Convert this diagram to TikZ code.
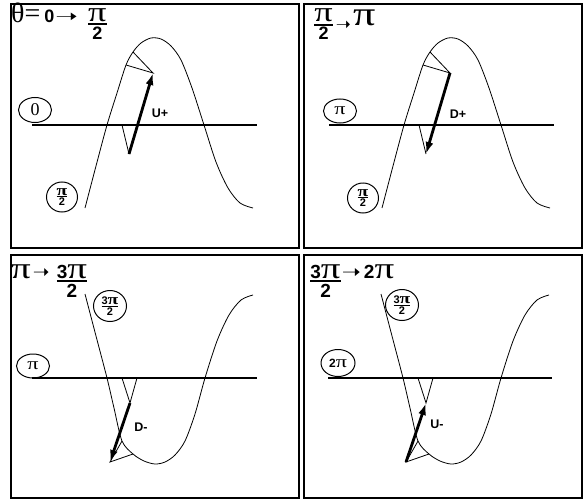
\documentclass[tikz,border=0pt]{standalone}
\usepackage{fontspec}
\setmainfont{Liberation Sans}
\newfontfamily\gr{Liberation Serif}
\newfontfamily\ar{DejaVu Sans}
\usetikzlibrary{arrows.meta,shapes.geometric}

% fraction with a bar of given thickness
\newcommand\fr[3]{${\hbox{#2}\above#1\hbox{#3}}$}
\newcommand\tsize{\fontsize{18}{20}\selectfont\bfseries}
\newcommand\bsize{\fontsize{19}{21}\selectfont\bfseries}
\newcommand\gsize{\gr\fontsize{28}{28}\selectfont\mdseries}
\newcommand\gbsize{\gr\fontsize{30}{30}\selectfont\mdseries}
\newcommand\pp{\scalebox{1.3}[1]{π}}
\newcommand\arr[1]{{\ar\mdseries\scalebox{#1}[1]{➝}}}
\newcommand\wavetop{plot[smooth] coordinates {(85,208) (96,166) (107,125) (117,93) (126,65) (133,52) (141,43) (151,38) (161,39) (171,46) (181,60) (192,88) (204,125) (216,162) (228,188) (240,203) (253,208)}}
\newcommand\wavebot{plot[smooth] coordinates {(85,294) (96,336) (107,378) (114,408) (122,441) (133,454) (144,461) (155,464) (165,462) (175,455) (185,441) (195,414) (205,378) (217,341) (229,315) (241,300) (253,295)}}

\tikzset{
  frame/.style={line width=1.4pt},
  axis/.style={line width=1.4pt},
  wave/.style={line width=0.8pt},
  guide/.style={line width=0.8pt},
  vec/.style={line width=2.8pt, -{Latex[length=12pt,width=8pt]}},
  ring/.style={draw, ellipse, line width=1pt, inner sep=0pt},
  tag/.style={font=\fontsize{12.5}{13}\selectfont\bfseries},
  ttl/.style={anchor=base west, inner sep=0pt, font=\tsize}
}

\begin{document}
\begin{tikzpicture}[x=1pt, y=-1pt]
\useasboundingbox (0,0) rectangle (585,500);

% frames
\draw[frame] (11,4) rectangle (299,248);
\draw[frame] (304,4) rectangle (582,248);
\draw[frame] (11,255) rectangle (299,498);
\draw[frame] (304,255) rectangle (582,498);

% theta = 0 -> pi/2
\node[ttl] (ttl1) at (11,23) {{\gsize θ=}\hspace{4pt}0\hspace{1pt}\arr{1.5}\hspace{9pt}\raisebox{-5.5pt}{\fr{1.8pt}{\gsize\pp}{2}}};
\draw[axis] (32,125) -- (257,125);
\draw[wave] \wavetop;
\node[ring, minimum width=33, minimum height=25] (p1zero) at (35,110) {\gr\fontsize{18}{18}\selectfont 0};
\node[ring, minimum width=31, minimum height=30] (p1half) at (62,197) {\fontsize{11}{11}\selectfont\bfseries\fr{0.8pt}{\gr\fontsize{15}{15}\selectfont\pp}{2}};
\coordinate (p1a) at (122,125);
\coordinate (p1t) at (129,154);
\coordinate (p1h) at (153,73);
\coordinate (p1c) at (133,52);
\coordinate (p1d) at (126,65);
\draw[guide] (p1a) -- (p1t);
\draw[guide] (p1c) -- (p1h) -- (p1d);
\draw[vec] (p1t) -- (p1h);
\node[tag] (p1u) at (160,113) {U+};

% pi/2 -> pi
\node[ttl] (ttl2) at (313,26) {\raisebox{-3pt}{\fr{1.8pt}{\gsize\pp}{2}}\hspace{2pt}\raisebox{-5pt}{\arr{1}}\hspace{2pt}{\gr\fontsize{34}{34}\selectfont\mdseries\pp}};
\draw[axis] (329,125) -- (554,125);
\begin{scope}[xshift=297]
  \draw[wave] \wavetop;
\end{scope}
\node[ring, minimum width=33, minimum height=24] (p2pi) at (340,111) {\gr\fontsize{17}{17}\selectfont\pp};
\node[ring, minimum width=31, minimum height=30] (p2half) at (363,198) {\fontsize{11}{11}\selectfont\bfseries\fr{0.8pt}{\gr\fontsize{15}{15}\selectfont\pp}{2}};
\coordinate (p2a) at (419,125);
\coordinate (p2t) at (450,73);
\coordinate (p2h) at (426,154);
\coordinate (p2c) at (430,52);
\coordinate (p2d) at (423,65);
\draw[guide] (p2a) -- (p2h);
\draw[guide] (p2c) -- (p2t) -- (p2d);
\draw[vec] (p2t) -- (p2h);
\node[tag] (p2u) at (458,114) {D+};

% pi -> 3pi/2
\node[ttl, font=\bsize] (ttl3) at (11,278) {{\gbsize\pp}\hspace{2pt}\arr{1.05}\hspace{6pt}\raisebox{-7.75pt}{\fr{2pt}{3{\gbsize\pp}}{2}}};
\draw[axis] (32,378) -- (257,378);
\draw[wave] \wavebot;
\node[ring, minimum width=33, minimum height=24] (p3pi) at (33,366) {\gr\fontsize{17}{17}\selectfont\pp};
\node[ring, minimum width=33, minimum height=31] (p3tq) at (110,306) {\fontsize{11}{11}\selectfont\bfseries\fr{0.8pt}{3{\gr\fontsize{15}{15}\selectfont\pp}}{2}};
\coordinate (p3a) at (122,378);
\coordinate (p3b) at (137,378);
\coordinate (p3t) at (130,403);
\coordinate (p3h) at (110,462);
\coordinate (p3c) at (122,441);
\coordinate (p3d) at (133,454);
\draw[guide] (p3a) -- (p3t) -- (p3b);
\draw[guide] (p3c) -- (p3h) -- (p3d);
\draw[vec] (p3t) -- (p3h);
\node[tag] (p3u) at (141,427) {D-};

% 3pi/2 -> 2pi
\node[ttl, font=\bsize] (ttl4) at (309,278) {\raisebox{-7.75pt}{\fr{2pt}{3{\gbsize\pp}}{2}}\arr{1.2}\hspace{3pt}2{\gbsize\pp}};
\draw[axis] (328,378) -- (552,378);
\begin{scope}[xshift=296]
  \draw[wave] \wavebot;
\end{scope}
\node[ring, minimum width=34, minimum height=27] (p4pi) at (338,363) {\fontsize{12}{12}\selectfont\bfseries 2{\gr\fontsize{17}{17}\selectfont\mdseries\pp}};
\node[ring, minimum width=33, minimum height=31] (p4tq) at (402,305) {\fontsize{11}{11}\selectfont\bfseries\fr{0.8pt}{3{\gr\fontsize{15}{15}\selectfont\pp}}{2}};
\coordinate (p4a) at (418,378);
\coordinate (p4b) at (433,378);
\coordinate (p4t) at (426,403);
\coordinate (p4h) at (406,462);
\coordinate (p4c) at (418,441);
\coordinate (p4d) at (429,454);
\draw[guide] (p4a) -- (p4t) -- (p4b);
\draw[guide] (p4c) -- (p4h) -- (p4d);
\draw[vec] (p4h) -- (p4t);
\node[tag] (p4u) at (437,424) {U-};
\end{tikzpicture}
\end{document}
